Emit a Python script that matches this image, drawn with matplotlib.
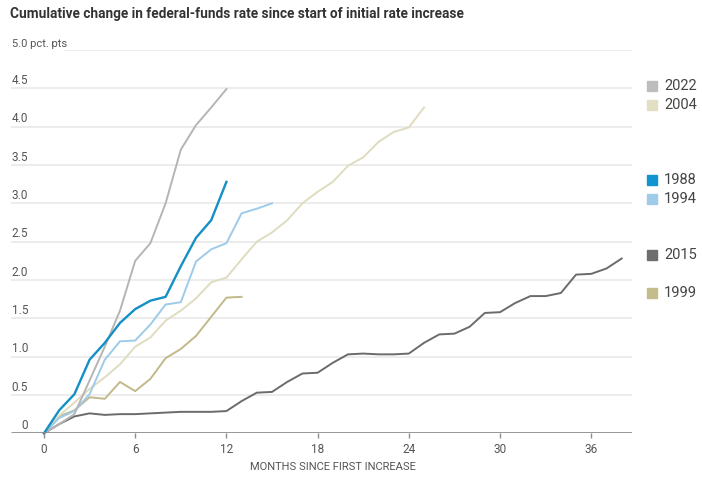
import matplotlib
matplotlib.use('Agg')
import matplotlib.pyplot as plt

plt.rcParams['font.family'] = ['Roboto', 'DejaVu Sans']

# data, months since first increase -> cumulative change (pct. pts)
r2022 = [0, 0.12, 0.25, 0.69, 1.13, 1.60, 2.25, 2.48, 3.00, 3.70, 4.02, 4.25, 4.49]
r1988 = [0, 0.30, 0.51, 0.96, 1.18, 1.44, 1.62, 1.73, 1.78, 2.18, 2.55, 2.78, 3.28]
r1994 = [0, 0.20, 0.29, 0.51, 0.96, 1.20, 1.21, 1.42, 1.68, 1.71, 2.24, 2.40, 2.48, 2.87, 2.93, 3.00]
r2004 = [0, 0.23, 0.40, 0.58, 0.73, 0.90, 1.13, 1.25, 1.47, 1.60, 1.76, 1.97, 2.03, 2.27,
         2.50, 2.62, 2.78, 3.00, 3.15, 3.28, 3.49, 3.60, 3.80, 3.93, 3.99, 4.25]
r1999 = [0, 0.22, 0.30, 0.47, 0.45, 0.67, 0.55, 0.71, 0.98, 1.10, 1.27, 1.52, 1.77, 1.78]
r2015 = [0, 0.12, 0.22, 0.26, 0.24, 0.25, 0.25, 0.26, 0.27, 0.28, 0.28, 0.28, 0.29, 0.42,
         0.53, 0.54, 0.67, 0.78, 0.79, 0.92, 1.03, 1.04, 1.03, 1.03, 1.04, 1.18, 1.29, 1.30,
         1.39, 1.57, 1.58, 1.70, 1.79, 1.79, 1.83, 2.07, 2.08, 2.15, 2.28]

yticks = [0, 0.5, 1.0, 1.5, 2.0, 2.5, 3.0, 3.5, 4.0, 4.5, 5.0]
xticks = [0, 6, 12, 18, 24, 30, 36]

legend_years = ['2022', '2004', '1988', '1994', '2015', '1999']
legend_cols = ['#bdbdbd', '#e3dfc3', '#1294d1', '#9ecbe8', '#6e6e6e', '#c4bc8a']
legend_ypx = [86, 105, 180, 199, 255, 293]

fig = plt.figure(figsize=(7.02, 4.8), dpi=100)
ax = fig.add_axes([11 / 702, (480 - 433.3) / 480, 621 / 702, 383.3 / 480])
ax.set_xlim(-2.17, 38.68)
ax.set_ylim(0, 5.0)
ax.axis('off')

# gridlines
for v in yticks[1:]:
    x0 = 1.3 if v == 5.0 else -2.17
    ax.hlines(v, x0, 38.68, color='#ebebeb', lw=1.3, zorder=0)
ax.hlines(0, -2.17, 38.68, color='#8c8c8c', lw=2, zorder=5)
for t in xticks:
    ax.vlines(t, -0.055, 0, color='#8c8c8c', lw=1, clip_on=False, zorder=5)
    ax.text(t, -0.13, str(t), ha='center', va='top', fontsize=8.5, color='#555555')
ax.text(19, -0.37, 'MONTHS SINCE FIRST INCREASE', ha='center', va='top',
        fontsize=8, color='#555555')

for v in yticks:
    lab = '0' if v == 0 else '%.1f' % v
    if v == 5.0:
        ax.annotate('5.0 pct. pts', xy=(-2.1, v), xytext=(0, 1), textcoords='offset points',
                    ha='left', va='bottom', fontsize=8, color='#555555')
    else:
        ax.annotate(lab, xy=(-1.05, v), xytext=(0, 1), textcoords='offset points',
                    ha='right', va='bottom', fontsize=8.5, color='#555555')

series = [(r2015, '#6b6b6b', 1.4), (r1999, '#c2b98a', 1.4), (r2004, '#e0dcc0', 1.4),
          (r1994, '#9dcbe9', 1.4), (r2022, '#b5b5b5', 1.4), (r1988, '#1490c4', 1.7)]
for vals, col, lw in series:
    ax.plot(range(len(vals)), vals, color=col, lw=lw, clip_on=False, zorder=3)

# legend
for yr, col, ypx in zip(legend_years, legend_cols, legend_ypx):
    fy = (480 - ypx) / 480
    fig.patches.append(plt.Rectangle((647 / 702, fy - 5 / 480), 10 / 702, 10 / 480,
                                     transform=fig.transFigure, color=col))
    fig.text(664 / 702, fy, yr, ha='left', va='center', fontsize=10.5, color='#444444')

fig.text(10 / 702, (480 - 14) / 480, 'Cumulative change in federal-funds rate since start of initial rate increase',
         ha='left', va='center', fontsize=9.8, fontweight='bold', color='#333333')

fig.savefig('out.png', dpi=100)
